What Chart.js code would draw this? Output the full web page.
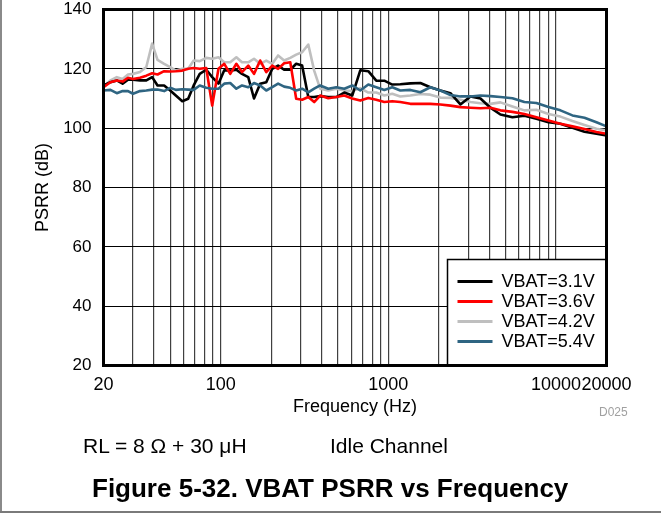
<!DOCTYPE html>
<html>
<head>
<meta charset="utf-8">
<script src="https://cdn.jsdelivr.net/npm/chart.js@4.4.0/dist/chart.umd.min.js"></script>
<style>
    html, body { margin: 0; padding: 0; background: #fff; }
    #wrap {
        position: relative; width: 661px; height: 518px; overflow: hidden;
        font-family: "Liberation Sans", Arial, sans-serif; color: #000;
    }
    #wrap canvas { position: absolute; left: 0; top: 0; }
    .txt { position: absolute; white-space: nowrap; }
    #leftLine { position: absolute; left: 0; top: 0; width: 2px; height: 513px; background: #8a8a8a; }
    #bottomLine { position: absolute; left: 0; top: 511px; width: 661px; height: 2px; background: #7a7a7a; }
</style>
</head>
<body>
<div id="wrap">
    <canvas id="psrrChart" width="661" height="518"></canvas>
    <div id="leftLine"></div>
    <div id="bottomLine"></div>
    <div class="txt" style="left:599px; top:406px; font-size:12px; line-height:12px; color:#a0a0a0;">D025</div>
    <div class="txt" style="left:83px; top:435px; font-size:21px; line-height:21px;">RL = 8 Ω + 30 μH</div>
    <div class="txt" style="left:330px; top:435px; font-size:21px; line-height:21px;">Idle Channel</div>
    <div class="txt" style="left:92px; top:475px; font-size:26px; line-height:26px; font-weight:bold;">Figure 5-32. VBAT PSRR vs Frequency</div>
</div>
<script>
// frequency points (Hz) shared by all curves
const freqs = [20, 22, 24, 26, 28, 30, 33, 36, 39, 42,
    46, 50, 54, 59, 64, 69, 75, 82, 89, 97,
    105, 114, 124, 134, 146, 158, 172, 187, 203, 220,
    239, 260, 282, 306, 333, 361, 392,
    438, 489, 546, 609, 680, 759, 847, 946, 1055, 1178,
    1352, 1552, 1780, 2043, 2345, 2690, 3087, 3543, 4060, 4660,
    5495, 6476, 7636, 9015, 10620, 12530, 14780, 17420, 20000];

// PSRR in dB
const vbat31 = [114.4, 115.5, 116.1, 115.0, 116.3, 116.3, 116.1, 116.1, 117.2, 114.4,
    114.4, 112.7, 111.0, 109.1, 109.9, 114.4, 118.3, 119.7, 117.2, 115.0,
    119.5, 119.4, 119.7, 118.3, 117.2, 110.0, 115.0, 115.5, 120.0, 121.1,
    119.7, 119.7, 121.7, 121.1, 110.5, 110.5, 110.8,
    110.5, 110.5, 112.0, 111.0, 119.5, 119.2, 116.0, 116.0, 114.7, 114.8,
    115.1, 115.2, 113.8, 112.7, 111.8, 108.0, 110.7, 110.0, 106.9, 104.6,
    103.7, 104.2, 103.2, 102.0, 101.5, 100.1, 98.8, 98.1, 97.5];
const vbat36 = [113.8, 115.5, 116.1, 115.7, 117.0, 116.6, 117.0, 117.7, 118.5, 118.1,
    119.2, 119.1, 119.2, 119.4, 120.0, 120.3, 120.0, 120.3, 107.6, 120.0,
    121.7, 118.3, 121.7, 118.9, 121.1, 118.3, 122.8, 118.9, 121.1, 120.0,
    121.9, 122.2, 109.9, 109.6, 110.5, 108.8, 111.0,
    110.1, 110.5, 111.0, 110.0, 109.3, 110.2, 109.6, 108.8, 109.1, 108.8,
    108.2, 108.2, 108.2, 108.0, 107.6, 107.1, 106.9, 106.7, 106.9, 106.0,
    105.5, 104.8, 103.7, 102.6, 101.5, 100.6, 99.7, 98.7, 98.1];
const vbat42 = [114.0, 116.1, 117.2, 116.6, 118.1, 118.3, 118.9, 120.6, 128.5, 123.0,
    121.7, 120.6, 119.4, 120.0, 120.0, 122.8, 122.6, 123.7, 123.4, 123.9,
    122.2, 122.2, 123.9, 122.2, 122.2, 123.4, 121.7, 122.8, 121.7, 124.5,
    122.8, 123.7, 124.8, 125.6, 128.2, 119.4, 113.3,
    112.7, 113.3, 112.7, 112.5, 113.5, 112.0, 112.0, 111.0, 111.6, 110.7,
    111.0, 111.5, 111.3, 110.3, 110.2, 109.6, 108.8, 108.4, 108.2, 108.7,
    107.3, 106.0, 106.2, 104.8, 103.9, 102.4, 101.1, 99.8, 99.2];
const vbat54 = [112.7, 112.9, 111.8, 112.5, 112.5, 111.6, 112.5, 112.7, 113.0, 113.0,
    112.5, 113.6, 112.9, 113.1, 113.0, 112.9, 114.4, 113.6, 113.3, 113.3,
    115.0, 115.2, 113.3, 114.4, 113.8, 115.2, 114.4, 112.7, 113.8, 115.0,
    114.0, 113.6, 112.7, 113.3, 112.1, 113.3, 114.4,
    113.3, 113.8, 113.3, 114.4, 112.7, 114.7, 113.8, 112.9, 113.8, 112.7,
    112.9, 112.1, 113.8, 112.7, 111.2, 110.7, 110.7, 111.0, 110.8, 110.5,
    110.1, 108.8, 108.5, 107.1, 106.0, 104.3, 103.5, 102.0, 100.6];

const seriesNames = ["VBAT=3.1V", "VBAT=3.6V", "VBAT=4.2V", "VBAT=5.4V"];

// axis ticks
const xGridTicks = [20, 30, 40, 50, 60, 70, 80, 90,
    100, 200, 300, 400, 500, 600, 700, 800, 900,
    1000, 2000, 3000, 4000, 5000, 6000, 7000, 8000, 9000,
    10000, 20000];
const xTickLabels = [20, 100, 1000, 10000, 20000];
const yTicks = [20, 40, 60, 80, 100, 120, 140];

function toPoints(values) {
    return freqs.map((f, i) => ({ x: f, y: values[i] }));
}

Chart.defaults.font.family = '"Liberation Sans", Arial, sans-serif';
Chart.defaults.color = "#000";

//frame round the plot and the boxed legend inside it
const framePlugin = {
    id: "frame",
    afterDatasetsDraw(chart) {
        const ctx = chart.ctx;
        const a = chart.chartArea;

        // legend box
        const boxLeft = a.left + 344;
        const boxTop = a.top + 250;
        ctx.save();
        ctx.fillStyle = "#fff";
        ctx.fillRect(boxLeft, boxTop, a.right - boxLeft, a.bottom - boxTop);
        ctx.strokeStyle = "#000";
        ctx.lineWidth = 1.5;
        ctx.strokeRect(boxLeft, boxTop, a.right - boxLeft, a.bottom - boxTop);

        ctx.font = '18px "Liberation Sans", Arial, sans-serif';
        ctx.textBaseline = "middle";
        ctx.textAlign = "left";
        chart.data.datasets.forEach((ds, i) => {
            const rowY = boxTop + 22 + i * 20;
            ctx.strokeStyle = ds.borderColor;
            ctx.lineWidth = 3;
            ctx.beginPath();
            ctx.moveTo(boxLeft + 10, rowY);
            ctx.lineTo(boxLeft + 45, rowY);
            ctx.stroke();
            ctx.fillStyle = "#000";
            ctx.fillText(ds.label, boxLeft + 54, rowY + 1);
        });

        // plot frame
        ctx.strokeStyle = "#000";
        ctx.lineWidth = 3;
        ctx.strokeRect(a.left, a.top, a.right - a.left, a.bottom - a.top);
        ctx.restore();
    }
};

const ctx = document.getElementById("psrrChart").getContext("2d");
const myChart = new Chart(ctx, {
    type: "line",
    data: {
        datasets: [
            { label: seriesNames[0], data: toPoints(vbat31), borderColor: "#000000", order: 2 },
            { label: seriesNames[1], data: toPoints(vbat36), borderColor: "#ff0000", order: 1 },
            { label: seriesNames[2], data: toPoints(vbat42), borderColor: "#bfbfbf", order: 3 },
            { label: seriesNames[3], data: toPoints(vbat54), borderColor: "#2f6582", order: 0 },
        ],
    },
    options: {
        responsive: false,
        animation: false,
        layout: { padding: { left: 0, right: 54.5, top: 9.5, bottom: 98 } },
        elements: {
            point: { radius: 0 },
            line: { borderWidth: 2.6, tension: 0, borderJoinStyle: "round" },
        },
        plugins: {
            legend: { display: false },
            tooltip: { enabled: false },
        },
        scales: {
            x: {
                type: "logarithmic",
                min: 20,
                max: 20000,
                afterBuildTicks: (scale) => {
                    scale.ticks = xGridTicks.map((v) => ({ value: v }));
                },
                afterFit: (scale) => {
                    scale.height = 54.5;
                    scale.paddingLeft = 0;
                    scale.paddingRight = 0;
                },
                grid: { color: "rgba(0,0,0,0.75)", lineWidth: 1.2, drawTicks: false },
                border: { display: false },
                ticks: {
                    autoSkip: false,
                    maxRotation: 0,
                    padding: 9,
                    font: { size: 18 },
                    callback: (v) => (xTickLabels.includes(v) ? String(v) : ""),
                },
                title: {
                    display: true,
                    text: "Frequency (Hz)",
                    font: { size: 18 },
                    padding: { top: 0, bottom: 2 },
                },
            },
            y: {
                min: 20,
                max: 140,
                afterBuildTicks: (scale) => {
                    scale.ticks = yTicks.map((v) => ({ value: v }));
                },
                afterFit: (scale) => {
                    scale.width = 103.5;
                    scale.paddingTop = 0;
                    scale.paddingBottom = 0;
                },
                grid: { color: "#000", lineWidth: 1, drawTicks: false },
                border: { display: false },
                ticks: { padding: 12, font: { size: 17 } },
                title: {
                    display: true,
                    text: "PSRR (dB)",
                    font: { size: 18 },
                    padding: { top: 32, bottom: 0 },
                },
            },
        },
    },
    plugins: [framePlugin],
});
</script>
</body>
</html>
